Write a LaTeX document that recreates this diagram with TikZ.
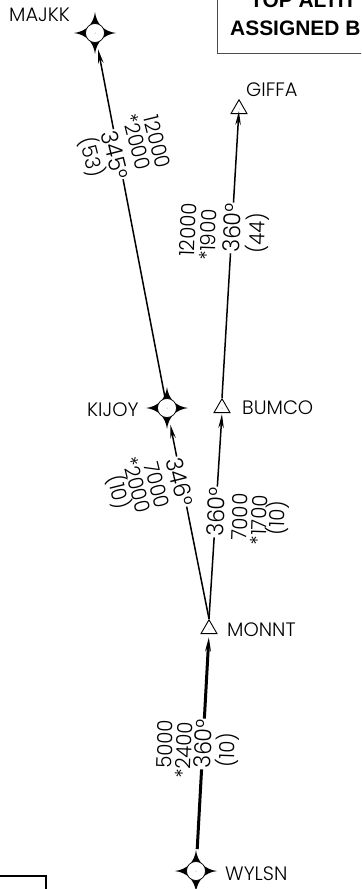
\documentclass[tikz,border=0pt]{standalone}
\usepackage{fontspec}
\setmainfont{Poppins Light}
\newfontfamily\narrowfont[FakeStretch=0.94]{Poppins Light}
\newfontfamily\boxfont{Liberation Sans}
\usetikzlibrary{arrows.meta,shapes.geometric}
\newcommand{\pxfont}[1]{\fontsize{#1}{#1}\selectfont}
\tikzset{
  x=1bp,y=-1bp,
  wptcircle/.style={circle,draw=black,line width=0.7bp,fill=white,minimum size=19bp,inner sep=0pt},
  wpttri/.style={regular polygon,regular polygon sides=3,draw=black,line width=0.9bp,fill=white,minimum size=18.5bp,inner sep=0pt},
  wptname/.style={font=\pxfont{19.5}\color{black},inner sep=0pt},
  leg/.style={draw=black,line width=1.5bp},
  legthick/.style={draw=black,line width=3bp},
  tip/.style={-{Stealth[length=14bp,width=5.5bp]}},
  alt/.style={font=\narrowfont\pxfont{21},inner sep=0pt},
  brg/.style={font=\narrowfont\pxfont{23.5},inner sep=1bp,fill=white},
}
\newcommand{\starshape}[1]{%
  \fill[black,shift={(#1)}] (21,0) .. controls (9,1.5) and (1.5,9) .. (0,21)
    .. controls (-1.5,9) and (-9,1.5) .. (-21,0)
    .. controls (-9,-1.5) and (-1.5,-9) .. (0,-21)
    .. controls (1.5,-9) and (9,-1.5) .. (21,0) -- cycle;}
\begin{document}
\begin{tikzpicture}
\useasboundingbox (0,0) rectangle (361,889);
\begin{scope}
\clip (0,0) rectangle (361,889);
\draw[line width=1bp,draw=black!70] (217.5,-10) -- (217.5,53) -- (370,53);
\node[font=\boxfont\bfseries\pxfont{21},anchor=base west,inner sep=0pt] (boxa) at (250,7) {TOP ALTIT};
\node[font=\boxfont\bfseries\pxfont{21},anchor=base west,inner sep=0pt] (boxb) at (230,35) {ASSIGNED B};
\draw[line width=1.6bp] (0,876) -- (46,876) -- (46,895);
\end{scope}

\starshape{95,33}
\starshape{167,408}
\starshape{196,871}
\node[wptcircle] (majkk) at (95,33) {};
\node[wptcircle] (kijoy) at (167,408) {};
\node[wptcircle] (wylsn) at (196,871) {};
\node[wpttri] (giffa) at (239,109) {};
\node[wpttri] (bumco) at (222,408) {};
\node[wpttri] (monnt) at (209,629) {};
\foreach \n in {majkk,kijoy,wylsn,giffa,bumco,monnt}
  \fill[black!45] (\n) circle (0.5);

\node[wptname,anchor=base west] (lmajkk) at (9,21) {MAJKK};
\node[wptname,anchor=base west] (lgiffa) at (246,96) {GIFFA};
\node[wptname,anchor=base west] (lkijoy) at (87,416) {KIJOY};
\node[wptname,anchor=base west] (lbumco) at (242,414) {BUMCO};
\node[wptname,anchor=base west] (lmonnt) at (227,636) {MONNT};
\node[wptname,anchor=base west] (lwylsn) at (225,880) {WYLSN};

\draw[leg,tip,shorten >=7bp] (kijoy) -- (majkk);
\draw[leg,tip,shorten >=2bp] (bumco.corner 1) -- (giffa.center);
\draw[leg,tip,shorten >=7bp] (monnt.corner 1) -- (kijoy);
\draw[leg,tip,shorten >=1bp] (monnt.corner 1) -- (bumco.side 2);
\draw[legthick,tip,shorten >=3bp,shorten <=12bp] (wylsn) -- (monnt.side 2);

\node[brg,rotate=-76] (b345) at (115,155) {345°};
\node[alt,rotate=-76] (a12k) at (157,142) {12000};
\node[alt,rotate=-76] (a2k) at (137,142) {*2000};
\node[alt,rotate=-76] (d53) at (92,157) {(53)};

\node[brg,rotate=88] (b360a) at (232,228) {360°};
\node[alt,rotate=88] (a12kb) at (188,230) {12000};
\node[alt,rotate=88] (a19) at (208,235) {*1900};
\node[alt,rotate=88] (d44) at (257,233) {(44)};

\node[brg,rotate=-76] (b346) at (180,482) {346°};
\node[alt,rotate=-76] (a7k) at (157,485) {7000};
\node[alt,rotate=-76] (a2kb) at (137,485) {*2000};
\node[alt,rotate=-76] (d10a) at (119,492) {(10)};

\node[brg,rotate=88] (b360b) at (216,512) {360°};
\node[alt,rotate=88] (a7kb) at (240,517) {7000};
\node[alt,rotate=88] (a17) at (259,520) {*1700};
\node[alt,rotate=88] (d10b) at (277,518) {(10)};

\node[brg,rotate=88] (b360c) at (203,744) {360°};
\node[alt,rotate=88] (a5k) at (165,744) {5000};
\node[alt,rotate=88] (a24) at (184,750) {*2400};
\node[alt,rotate=88] (d10c) at (227,750) {(10)};
\end{tikzpicture}
\end{document}
